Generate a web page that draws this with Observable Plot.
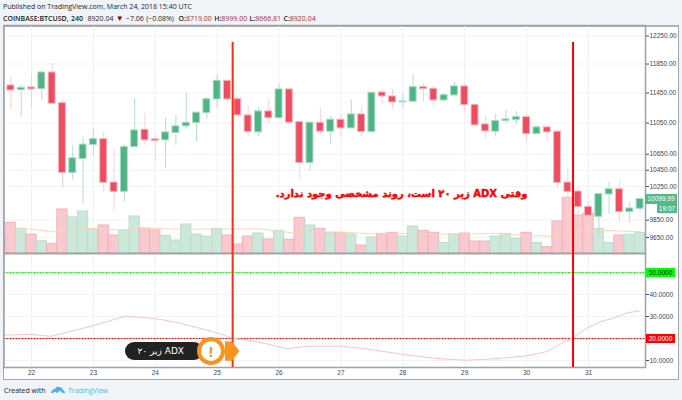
<!DOCTYPE html>
<html lang="en"><head><meta charset="utf-8">
<script src="https://cdn.jsdelivr.net/npm/d3@7"></script>
<script src="https://cdn.jsdelivr.net/npm/@observablehq/plot@0.6"></script>
<style>
html,body{margin:0;padding:0;background:#f0f3f7;}
#page{position:relative;width:682px;height:400px;overflow:hidden;background:#f0f3f7;font-family:"Open Sans",sans-serif;color:#1c1c1c;}
#box{position:absolute;left:3px;top:25px;width:674px;height:352px;background:#fff;border:1px solid #a3a6ad;border-top:2px solid #b0b2b8;box-sizing:content-box;}
#chart{position:absolute;left:0;top:0;}
.h{position:absolute;left:3px;white-space:nowrap;font-size:7px;line-height:11px;}
.tag{position:absolute;font:6.5px "Liberation Sans",sans-serif;text-align:center;}
</style></head><body>
<div id="page"><div id="box"></div><div id="chart"></div></div>
<script>
// candle prices, 4h bars, first bar is 21 March 16:00
const open  = [11553,11489,11526,11503,11732,11314,10416,10590,10767,10842,10299,10186,10741,10964,10839,10826,10920,11007,11050,11181,11363,11617,11367,11151,10929,11204,11115,11499,11063,10540,11055,10938,11094,10981,11164,10933,11458,11404,11323,11333,11530,11508,11350,11417,11540,11292,11033,10938,11076,11089,11129,10907,10994,10938,10299,10190,10007,9890,10154,10218,9945,9984];
const high  = [11667,11553,11714,11746,11862,11350,10763,10860,10977,10932,10724,10776,11377,11177,10894,11107,11151,11458,11195,11386,11700,11617,11404,11274,11257,11363,11580,11510,11070,11060,11261,11138,11164,11359,11261,11454,11495,11499,11431,11704,11580,11540,11440,11594,11577,11292,11147,11164,11217,11200,11160,11007,10994,10951,10462,10255,10087,10158,10303,10312,10059,10116];
const low   = [11230,11129,11252,11350,11306,10234,10327,10039,10624,10174,9960,10067,10741,10759,10565,10471,10763,10964,10810,11102,11247,11314,11115,10861,10877,11042,11102,11045,10319,10438,10890,10776,10868,10981,10861,10912,11306,11230,11247,11319,11333,11261,11327,11408,11181,11007,10848,10877,11042,11020,10813,10894,10835,10222,9736,9898,9614,9668,9922,9821,9815,9937];
const close = [11485,11522,11499,11732,11306,10416,10599,10772,10842,10295,10186,10741,10955,10826,10817,10929,11007,11055,11187,11367,11617,11363,11151,10933,11204,11115,11499,11055,10540,11055,10938,11094,10981,11164,10933,11454,11404,11323,11337,11530,11503,11350,11421,11540,11287,11020,10942,11076,11098,11129,10907,10994,10929,10295,10186,10004,9902,10158,10218,9945,9988,10100];
// volume, starts one bar before the first candle
const volume = [1000,1820,1460,1120,720,560,2620,2140,2500,1460,1660,1060,1340,2200,1480,1360,1040,760,1720,1120,1000,1460,1060,520,1000,1180,820,1340,800,2120,1660,1460,1200,1220,1120,460,940,1160,1220,1000,1600,1340,1220,620,1120,1180,700,700,1000,1160,860,1220,620,360,1900,3320,2260,2380,1460,620,1060,1100,1200];
const firstVolumeDirection = "down";
const volMaIndex = [-0.6,1.6,3.9,5.5,6.8,8.7,10.7,12.6,15.2,18.4,21.3,24,25.9,27.2,28.8,32,35.2,38.5,41.7,44.9,46.8,48.8,52.4,54,56,57.9,61.1];
const volMa      = [1540,1460,1300,1420,1480,1460,1400,1500,1460,1440,1440,1460,1340,1220,1300,1260,1160,1180,1140,1160,1200,1100,1020,1200,1360,1360,1280];
// ADX
const adxIndex = [-0.6,1.9,3.9,8.1,11.1,14.1,16.2,20,21.5,23.9,26.8,28.8,32,34.3,38,41.1,44.1,45.9,48.2,50.1,51.9,53.3,54.5,55.9,57.2,58.2,59.8,61];
const adx      = [21.5,21.9,21.0,26.0,30.2,29.0,27.2,22.6,20.1,18.5,15.4,16.5,16.5,15.4,12.8,11,10.1,10.5,11.3,12.2,14,17.5,20.5,24.9,27.8,28.9,31.7,32.6];
// axes
const priceTicks = [12250,11850,11450,11050,10650,10450,10250,9850,9650];
const adxTicks = [10,30,40];
const adxLevels = [50,20];
const dayTicks = [22,23,24,25,26,27,28,29,30,31];
const markerDays = [25.25,30.75];
const lastPrice = 10099.99;
const annotation = "وقتی ADX زیر ۲۰ است، روند مشخصی وجود ندارد.";
const pillText = "ADX زیر ۲۰";

const day = i => 22 + (i - 2) / 6;
const candles = open.map((o,i)=>({d:day(i),o,h:high[i],l:low[i],c:close[i],up:close[i]>=o}));
const vols = volume.map((v,k)=>{const i=k-1;return {d:day(i),v,up:k===0?firstVolumeDirection==="up":close[i]>=open[i]};});
const ma = volMa.map((v,k)=>({d:day(volMaIndex[k]),v}));
const adxData = adx.map((v,k)=>({d:day(adxIndex[k]),v}));

const RED="#ee4c60",GREEN="#4fb385",PRED="#fbd0d6",PGREEN="#b7dadc";
const X={domain:[22,31],range:[31,588]};
const base={width:682,height:400,marginLeft:3.5,marginRight:37,marginTop:25,marginBottom:147,x:X,
  style:{fontFamily:'"Liberation Sans",sans-serif',fontSize:"6.5px",background:"transparent",overflow:"visible"}};
const Y={type:"log",domain:[12250,9650],range:[35.5,237]};
const FRAME="#9ea1a8",TXT="#3f434c";

const gridPlot=Plot.plot({...base,y:Y,marks:[
  Plot.gridX(dayTicks,{stroke:"#eef2f7",strokeOpacity:1}),
  Plot.gridY(priceTicks,{stroke:"#f0f3f7",strokeOpacity:1}),
  Plot.axisY(priceTicks,{anchor:"right",label:null,tickSize:3,tickPadding:1,color:TXT,fontSize:6.5,tickFormat:d=>d.toFixed(2)}),
  Plot.axisX({ticks:[],label:null})
]});
const volPlot=Plot.plot({...base,y:{domain:[0,3320],range:[252.7,197.3]},marks:[
  Plot.rect(vols,{x1:d=>d.d-0.083,x2:d=>d.d+0.083,y1:0,y2:"v",clip:true,
    fill:d=>d.up?"#c9e7d9":"#f8c6cb",stroke:d=>d.up?"#b9e0cd":"#f3b2b9",strokeWidth:1,fillOpacity:0.95}),
  Plot.line(ma,{x:"d",y:"v",stroke:"#f9d6b8",strokeWidth:1,clip:true}),
  Plot.axisY({ticks:[],label:null}),Plot.axisX({ticks:[],label:null})
]});
const pricePlot=Plot.plot({...base,y:Y,marks:[
  Plot.ruleX(candles,{x:"d",y1:"l",y2:"h",stroke:d=>d.up?PGREEN:PRED,strokeWidth:1}),
  Plot.rect(candles,{x1:d=>d.d-0.056,x2:d=>d.d+0.056,y1:"o",y2:"c",
    fill:d=>d.up?GREEN:RED,stroke:d=>d.up?"#a9dcc3":"#f8b5bd",strokeWidth:1}),
  Plot.frame({stroke:FRAME,strokeWidth:1.5}),
  Plot.axisY({ticks:[],label:null}),Plot.axisX({ticks:[],label:null})
]});
const adxPlot=Plot.plot({...base,marginTop:253,marginBottom:33,y:{domain:[50,10],range:[272,360]},marks:[
  Plot.gridX(dayTicks,{stroke:"#eef2f7",strokeOpacity:1}),
  Plot.gridY([40,30,10],{stroke:"#f0f3f7",strokeOpacity:1}),
  Plot.ruleY([50],{stroke:"#00ff00",strokeWidth:1,strokeDasharray:"2 1"}),
  Plot.ruleY([20],{stroke:"#ff0000",strokeWidth:1,strokeDasharray:"2 1"}),
  Plot.line(adxData,{x:"d",y:"v",stroke:"#fbc4c4",strokeWidth:1}),
  Plot.axisY(adxTicks.concat(adxLevels),{anchor:"right",label:null,tickSize:3,tickPadding:1,color:TXT,fontSize:6.5,tickFormat:d=>adxTicks.includes(d)?d.toFixed(4):""}),
  Plot.axisX(dayTicks,{anchor:"bottom",label:null,tickSize:0,tickPadding:3,color:TXT,fontSize:6.5,tickFormat:d=>String(d)}),
  Plot.frame({stroke:FRAME,strokeWidth:1.5}),
  Plot.ruleX([markerDays[0]],{x:d=>d,y1:154.5,y2:6.8,stroke:"#ff2c10",strokeWidth:2}),
  Plot.ruleX([markerDays[1]],{x:d=>d,y1:154.5,y2:6.8,stroke:"#ff0000",strokeWidth:2}),
  Plot.text([annotation],{x:()=>27.98,y:()=>85.9,text:d=>d,fill:"#ff0000",stroke:"#ff0000",strokeWidth:0.45,fontWeight:"bold",fontSize:10,
    fontFamily:'"DejaVu Sans",sans-serif',textAnchor:"middle",lineAnchor:"middle"})
]});
adxPlot.querySelectorAll("text").forEach(t=>{ if(t.textContent===annotation){ t.setAttribute("direction","rtl"); t.style.direction="rtl"; t.style.unicodeBidi="embed"; }});

const svg=gridPlot;
for(const p of [volPlot,pricePlot,adxPlot]) for(const c of [...p.children]) if(c.tagName.toLowerCase()!=="style") svg.append(c);
document.getElementById("chart").append(svg);

const page=document.getElementById("page");
function add(html){const t=document.createElement("template");t.innerHTML=html.trim();page.append(t.content.firstChild);}
add(`<div class="h" style="top:1px;">Published on TradingView.com, March 24, 2018 15:40 UTC</div>`);
const rd=s=>`<span style="color:#a8323c">${s}</span>`;
const bd=s=>`<b style="font-weight:600">${s}</b>`;
add(`<div class="h" style="top:11.5px;word-spacing:0.5px;">${bd("COINBASE:BTCUSD, 240")}&nbsp; 8920.04 <span style="color:#8b0000;font-size:8px">▼</span> −7.06 (−0.08%) &nbsp;${bd("O:")}${rd("8719.00")} ${bd("H:")}${rd("8999.00")} ${bd("L:")}${rd("8666.81")} ${bd("C:")}${rd("8920.04")}</div>`);
add(`<div class="h" style="top:384.5px;left:4px;">Created with</div>`);
add(`<svg style="position:absolute;left:50px;top:384px" width="16" height="11"><path d="M1 9 Q2 5 5 5 Q6 2 9 3 Q12 3 13 6 Q15 7 15 9 L12.5 9 L10 6.5 L7.5 9 L5 7.5 L3 9 Z" fill="#4eb0e6"/></svg>`);
add(`<div class="h" style="top:384.5px;left:68px;color:#55b4e6;">TradingView</div>`);

const yP=pricePlot.scale("y"), yA=adxPlot.scale("y");
const py=yP.apply(lastPrice);
add(`<div class="tag" style="left:645px;top:${py-5}px;width:32px;height:10px;line-height:10px;background:#53b987;color:#fff;">${lastPrice.toFixed(2)}</div>`);
add(`<div class="tag" style="left:657px;top:${py+5}px;width:20px;height:9px;line-height:9px;background:#53b987;color:#fff;">19:07</div>`);
adxLevels.forEach(v=>{const y=yA.apply(v);
 add(`<div class="tag" style="left:646px;top:${y-4}px;width:29px;height:9px;line-height:9px;background:${v===50?"#00ff00":"#ff0000"};color:${v===50?"#111":"#fff"};">${v.toFixed(4)}</div>`);});

add(`<div dir="rtl" style="position:absolute;left:125px;top:342px;width:78px;height:18px;box-sizing:border-box;background:#222;border-radius:9px;color:#fff;font:9px 'DejaVu Sans',sans-serif;line-height:18px;padding-right:19px;box-shadow:0 0 0 1px #fff;white-space:nowrap;text-align:right;">${pillText}</div>`);
add(`<svg style="position:absolute;left:195px;top:335px" width="48" height="32"><path d="M30 6.5 L37 6.5 L44.3 16 L37 25.7 L30 25.7 Z" fill="#f7931e"/><circle cx="16" cy="16" r="12" fill="#fff" stroke="#f7931e" stroke-width="4"/><text x="16" y="21.5" text-anchor="middle" fill="#f7931e" font-family="Liberation Sans" font-weight="bold" font-size="15">!</text></svg>`);
</script></body></html>
